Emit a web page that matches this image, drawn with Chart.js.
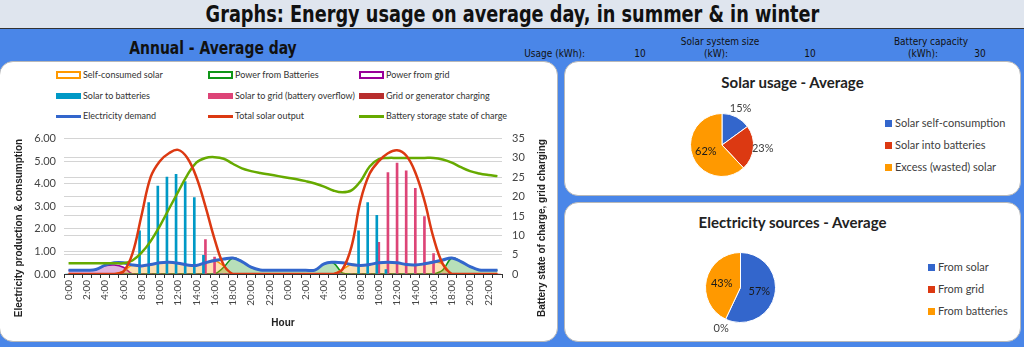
<!DOCTYPE html>
<html>
<head>
<meta charset="utf-8">
<script src="https://cdn.jsdelivr.net/npm/chart.js@4.4.0/dist/chart.umd.min.js"></script>
<style>
  html, body { margin: 0; padding: 0; }
  body { width: 1024px; height: 347px; position: relative; overflow: hidden; background: #4a86e8; font-family: Lato, 'Noto Sans', sans-serif; }
  .narrow { font-family: 'Liberation Sans Narrow', 'DejaVu Sans Condensed', Arial, sans-serif; font-stretch: condensed; }
  #topbar { position: absolute; left: 0; top: 0; width: 1024px; height: 28px; background: #dfe5ee; border-bottom: 1px solid #333; text-align: center; }
  #topbar h1 { display: inline-block; margin: 0; font-size: 23px; font-weight: bold; line-height: 28px; color: #111; transform: scaleX(0.856); transform-origin: center; white-space: nowrap; }
  .abs { position: absolute; white-space: nowrap; }
  .hdr { font-size: 10px; color: #111; line-height: 12px; }
  .panel { position: absolute; background: #fff; border: 1px solid #b8b8b8; border-radius: 14px; box-sizing: border-box; }
  .leg { position: absolute; font-size: 9px; color: #333; line-height: 12px; white-space: nowrap; }
  .sym { position: absolute; box-sizing: border-box; }
  .ptitle { position: absolute; left: 564px; width: 457px; text-align: center; font-weight: bold; font-size: 15px; color: #222; line-height: 20px; }
  .pleg { position: absolute; font-size: 11px; color: #404040; line-height: 14px; white-space: nowrap; }
  .psq { display: inline-block; width: 7px; height: 7px; margin-right: 3px; vertical-align: 0px; }
  canvas { position: absolute; }
</style>
</head>
<body>
<div id="topbar"><h1 class="narrow">Graphs: Energy usage on average day, in summer &amp; in winter</h1></div>

<div class="abs narrow" style="left:113px;top:38px;width:200px;text-align:center;font-weight:bold;font-size:18px;line-height:20px;color:#111;transform:scaleX(0.86);">Annual - Average day</div>
<div class="abs narrow hdr" style="left:505px;top:48px;width:80px;text-align:right;">Usage (kWh):</div>
<div class="abs narrow hdr" style="left:630px;top:48px;width:20px;text-align:center;">10</div>
<div class="abs narrow hdr" style="left:670px;top:36px;width:100px;text-align:center;">Solar system size</div>
<div class="abs narrow hdr" style="left:690px;top:48px;width:52px;text-align:center;">(kW):</div>
<div class="abs narrow hdr" style="left:800px;top:48px;width:20px;text-align:center;">10</div>
<div class="abs narrow hdr" style="left:881px;top:36px;width:100px;text-align:center;">Battery capacity</div>
<div class="abs narrow hdr" style="left:897px;top:48px;width:52px;text-align:center;">(kWh):</div>
<div class="abs narrow hdr" style="left:970px;top:48px;width:20px;text-align:center;">30</div>

<div class="panel" style="left:-1px;top:61px;width:559px;height:281px;"></div>
<div class="panel" style="left:564px;top:61px;width:457px;height:135px;"></div>
<div class="panel" style="left:564px;top:202px;width:457px;height:140px;"></div>

<div id="mainLegend"></div>
<canvas id="mainChart" style="left:8px;top:122px;width:544px;height:212px;" width="544" height="212"></canvas>

<div class="ptitle" style="top:72px;">Solar usage - Average</div>
<canvas id="pieSolar" style="left:660px;top:95px;width:124px;height:100px;" width="124" height="100"></canvas>
<div id="legSolar"></div>

<div class="ptitle" style="top:212px;">Electricity sources - Average</div>
<canvas id="pieSources" style="left:680px;top:240px;width:122px;height:100px;" width="122" height="100"></canvas>
<div id="legSources"></div>

<script>
// hourly values over two days (48 hours)
const hours = [];
for (let h = 0; h < 48; h++) hours.push((h % 24) + ':00');

const selfConsumed = [0, 0, 0, 0, 0, 0, 0.12, 0.4, 0.36, 0.42, 0.5, 0.52, 0.48, 0.4, 0.38, 0.5, 0.6, 0.35, 0, 0, 0, 0, 0, 0,
  0, 0, 0, 0, 0, 0, 0.2, 0.42, 0.38, 0.42, 0.5, 0.52, 0.5, 0.42, 0.4, 0.45, 0.53, 0.45, 0, 0, 0, 0, 0, 0];
const fromBatteries = [0, 0, 0, 0, 0, 0, 0, 0, 0, 0, 0, 0, 0, 0, 0, 0, 0, 0.3, 0.71, 0.55, 0.3, 0.18, 0.17, 0.17,
  0.17, 0.17, 0.17, 0.17, 0.45, 0.5, 0.05, 0, 0, 0, 0, 0, 0, 0, 0, 0, 0, 0.17, 0.71, 0.55, 0.33, 0.18, 0.17, 0.17];
const fromGrid = [0.17, 0.17, 0.17, 0.2, 0.36, 0.4, 0.3, 0, 0, 0, 0, 0, 0, 0, 0, 0, 0, 0, 0, 0, 0, 0, 0, 0,
  0, 0, 0, 0, 0, 0, 0, 0, 0, 0, 0, 0, 0, 0, 0, 0, 0, 0, 0, 0, 0, 0, 0, 0];
const solarToBatteries = [0, 0, 0, 0, 0, 0, 0, 0, 1.91, 3.17, 3.9, 4.3, 4.42, 4.09, 3.39, 0.83, 0, 0, 0, 0, 0, 0, 0, 0,
  0, 0, 0, 0, 0, 0, 0, 0, 1.91, 3.17, 2.6, 0.2, 0, 0, 0, 0, 0, 0, 0, 0, 0, 0, 0, 0];
const solarToGrid = [0, 0, 0, 0, 0, 0, 0, 0, 0, 0, 0, 0, 0, 0, 0, 1.52, 0.75, 0, 0, 0, 0, 0, 0, 0,
  0, 0, 0, 0, 0, 0, 0, 0, 0, 0, 1.4, 4.49, 4.91, 4.57, 3.8, 2.54, 0.9, 0, 0, 0, 0, 0, 0, 0];
const gridCharging = new Array(48).fill(0);
const demand = [0.17, 0.17, 0.17, 0.2, 0.39, 0.5, 0.5, 0.4, 0.36, 0.42, 0.5, 0.52, 0.48, 0.4, 0.38, 0.5, 0.6, 0.66, 0.71, 0.55, 0.3, 0.18, 0.17, 0.17,
  0.17, 0.17, 0.17, 0.17, 0.45, 0.52, 0.5, 0.42, 0.38, 0.42, 0.5, 0.52, 0.5, 0.42, 0.4, 0.45, 0.53, 0.62, 0.71, 0.55, 0.33, 0.18, 0.17, 0.17];
const solarOutput = [0, 0, 0, 0, 0, 0, 0.1, 0.9, 2.6, 4.3, 5.0, 5.35, 5.5, 5.15, 4.3, 3.0, 1.55, 0.4, 0, 0, 0, 0, 0, 0,
  0, 0, 0, 0, 0, 0, 0.2, 1.2, 3.25, 4.45, 5.0, 5.35, 5.48, 5.25, 4.5, 3.25, 1.6, 0.45, 0, 0, 0, 0, 0, 0];
const batteryCharge = [2.8, 2.8, 2.8, 2.8, 2.8, 2.8, 2.8, 3.5, 5.5, 8.5, 12.4, 16.8, 21.2, 25.5, 28.8, 30, 30.2, 29.8, 28.5, 27.3, 26.6, 26.1, 25.7, 25.3,
  24.9, 24.5, 24, 23.4, 22.6, 21.6, 21.1, 21.6, 24, 27.8, 29.7, 30, 30, 30, 30, 30, 30, 29.6, 28.8, 27.6, 26.6, 26, 25.6, 25.3];

// pie data
const solarUseLabels = ['Solar self-consumption', 'Solar into batteries', 'Excess (wasted) solar'];
const solarUseValues = [15, 23, 62];
const sourceLabels = ['From solar', 'From grid', 'From batteries'];
const sourceValues = [57, 0, 43];
const pieColors = ['#3366cc', '#dc3912', '#ff9900'];

const FONT = 'Lato, "Noto Sans", sans-serif';
const leftTitle = 'Electricity production & consumption';
const rightTitle = 'Battery state of charge, grid charging';

const areaDs = (label, data, color, fillColor) => ({
  type: 'line', label, data, yAxisID: 'y', borderColor: color, backgroundColor: fillColor,
  fill: 'origin', borderWidth: 1.5, pointRadius: 0, tension: 0.4, order: 5, kind: 'area'
});
const barDs = (label, data, color, axis) => ({
  type: 'bar', label, data, yAxisID: axis, backgroundColor: color, barThickness: 2,
  categoryPercentage: 0.6, barPercentage: 1, order: 4, kind: 'bar'
});
const lineDs = (label, data, color, axis, width, order) => ({
  type: 'line', label, data, yAxisID: axis, borderColor: color, borderWidth: width,
  pointRadius: 0, tension: 0.4, fill: false, order, kind: 'line'
});

const datasets = [
  areaDs('Self-consumed solar', selfConsumed, '#ff9900', 'rgba(255,153,0,0.3)'),
  areaDs('Power from Batteries', fromBatteries, '#109618', 'rgba(16,150,24,0.3)'),
  areaDs('Power from grid', fromGrid, '#990099', 'rgba(153,0,153,0.3)'),
  barDs('Solar to batteries', solarToBatteries, '#0099c6', 'y'),
  barDs('Solar to grid (battery overflow)', solarToGrid, '#dd4477', 'y'),
  barDs('Grid or generator charging', gridCharging, '#b82e2e', 'y2'),
  lineDs('Electricity demand', demand, '#3366cc', 'y', 3, 3),
  lineDs('Total solar output', solarOutput, '#dc3912', 'y', 2.5, 1),
  lineDs('Battery storage state of charge', batteryCharge, '#66aa00', 'y2', 2.5, 2)
];

// 3x3 legend above the main chart
(function buildLegend() {
  const cols = [56, 208, 359], rows = [75, 96, 116];
  const box = document.getElementById('mainLegend');
  datasets.forEach((ds, i) => {
    const x = cols[i % 3], y = rows[Math.floor(i / 3)];
    const sym = document.createElement('div');
    sym.className = 'sym';
    if (ds.kind === 'area') {
      sym.style.cssText = `left:${x}px;top:${y - 4}px;width:25px;height:8px;border:2px solid ${ds.borderColor};background:#fff;`;
    } else if (ds.kind === 'bar') {
      sym.style.cssText = `left:${x}px;top:${y - 3}px;width:25px;height:6px;background:${ds.backgroundColor};`;
    } else {
      sym.style.cssText = `left:${x}px;top:${y - 1}px;width:25px;height:3px;background:${ds.borderColor};`;
    }
    box.appendChild(sym);
    const t = document.createElement('div');
    t.className = 'leg';
    t.style.left = (x + 27) + 'px';
    t.style.top = (y - 6) + 'px';
    t.textContent = ds.label;
    box.appendChild(t);
  });
})();

const axisTitles = {
  id: 'axisTitles',
  afterDraw(chart) {
    const ctx = chart.ctx;
    ctx.save();
    ctx.font = 'bold 10px "Liberation Sans", Arial, sans-serif';
    ctx.fillStyle = '#222';
    ctx.textAlign = 'center';
    ctx.textBaseline = 'middle';
    [[11, leftTitle], [534, rightTitle]].forEach(([x, t]) => {
      ctx.save();
      ctx.translate(x, 106);
      ctx.rotate(-Math.PI / 2);
      ctx.fillText(t, 0, 0);
      ctx.restore();
    });
    ctx.restore();
  }
};

new Chart(document.getElementById('mainChart'), {
  data: { labels: hours, datasets },
  options: {
    responsive: false,
    animation: false,
    layout: { padding: { top: 14, left: 0, right: 0, bottom: 0 } },
    plugins: { legend: { display: false }, tooltip: { enabled: false } },
    scales: {
      x: {
        offset: true,
        grid: { drawOnChartArea: false, drawTicks: true, tickLength: 4, color: '#333' },
        border: { color: '#333' },
        ticks: {
          autoSkip: false, maxRotation: 90, minRotation: 90, padding: 2,
          color: '#444', font: { family: FONT, size: 10 },
          callback(v, i) { return i % 2 === 0 ? this.getLabelForValue(v) : ''; }
        },
        title: {
          display: true, text: 'Hour', color: '#222',
          font: { family: '"Liberation Sans", Arial, sans-serif', size: 10, weight: 'bold' },
          padding: { top: 0, bottom: 5 }
        },
        afterFit(s) { s.height = 60; }
      },
      y: {
        position: 'left', min: 0, max: 6,
        grid: { color: '#d4d4d4', drawTicks: false },
        border: { display: false },
        ticks: { stepSize: 1, padding: 8, color: '#444', font: { family: FONT, size: 11 },
          callback: (v) => v.toFixed(2) },
        afterFit(s) { s.width = 56; }
      },
      y2: {
        position: 'right', min: 0, max: 35,
        grid: { color: '#d4d4d4', drawTicks: false },
        border: { display: false },
        ticks: { stepSize: 5, padding: 10, color: '#444', font: { family: FONT, size: 11 } },
        afterFit(s) { s.width = 50; }
      }
    }
  },
  plugins: [axisTitles]
});

// percentage labels on the pies: big slices inside, small ones outside
const pctLabels = {
  id: 'pctLabels',
  afterDatasetsDraw(chart) {
    const data = chart.data.datasets[0].data;
    const total = data.reduce((a, b) => a + b, 0);
    const ctx = chart.ctx;
    ctx.save();
    ctx.font = '11px ' + FONT;
    ctx.textAlign = 'center';
    ctx.textBaseline = 'middle';
    chart.getDatasetMeta(0).data.forEach((arc, i) => {
      const p = arc.getProps(['x', 'y', 'startAngle', 'endAngle', 'outerRadius'], true);
      const mid = (p.startAngle + p.endAngle) / 2;
      const pct = Math.round(data[i] / total * 100);
      const inside = pct >= 30;
      const r = inside ? p.outerRadius * 0.55 : p.outerRadius * 1.3;
      ctx.fillStyle = inside ? '#1a1a1a' : '#404040';
      ctx.fillText(pct + '%', p.x + Math.cos(mid) * r, p.y + Math.sin(mid) * r);
    });
    ctx.restore();
  }
};

function makePie(id, labels, values, padding) {
  new Chart(document.getElementById(id), {
    type: 'pie',
    data: { labels, datasets: [{ data: values, backgroundColor: pieColors, borderColor: '#fff', borderWidth: 1 }] },
    options: {
      responsive: false,
      animation: false,
      layout: { padding },
      plugins: { legend: { display: false }, tooltip: { enabled: false } }
    },
    plugins: [pctLabels]
  });
}

function pieLegend(id, labels, x, ys) {
  const box = document.getElementById(id);
  labels.forEach((l, i) => {
    const d = document.createElement('div');
    d.className = 'pleg';
    d.style.left = x + 'px';
    d.style.top = (ys[i] - 7) + 'px';
    d.innerHTML = `<span class="psq" style="background:${pieColors[i]}"></span>`;
    d.appendChild(document.createTextNode(l));
    box.appendChild(d);
  });
}

makePie('pieSolar', solarUseLabels, solarUseValues, { left: 30, right: 30, top: 18, bottom: 18 });
makePie('pieSources', sourceLabels, sourceValues, { left: 25, right: 26, top: 12, bottom: 17 });
pieLegend('legSolar', solarUseLabels, 885, [123, 145, 167]);
pieLegend('legSources', sourceLabels, 928, [267, 289, 311]);
</script>
</body>
</html>
